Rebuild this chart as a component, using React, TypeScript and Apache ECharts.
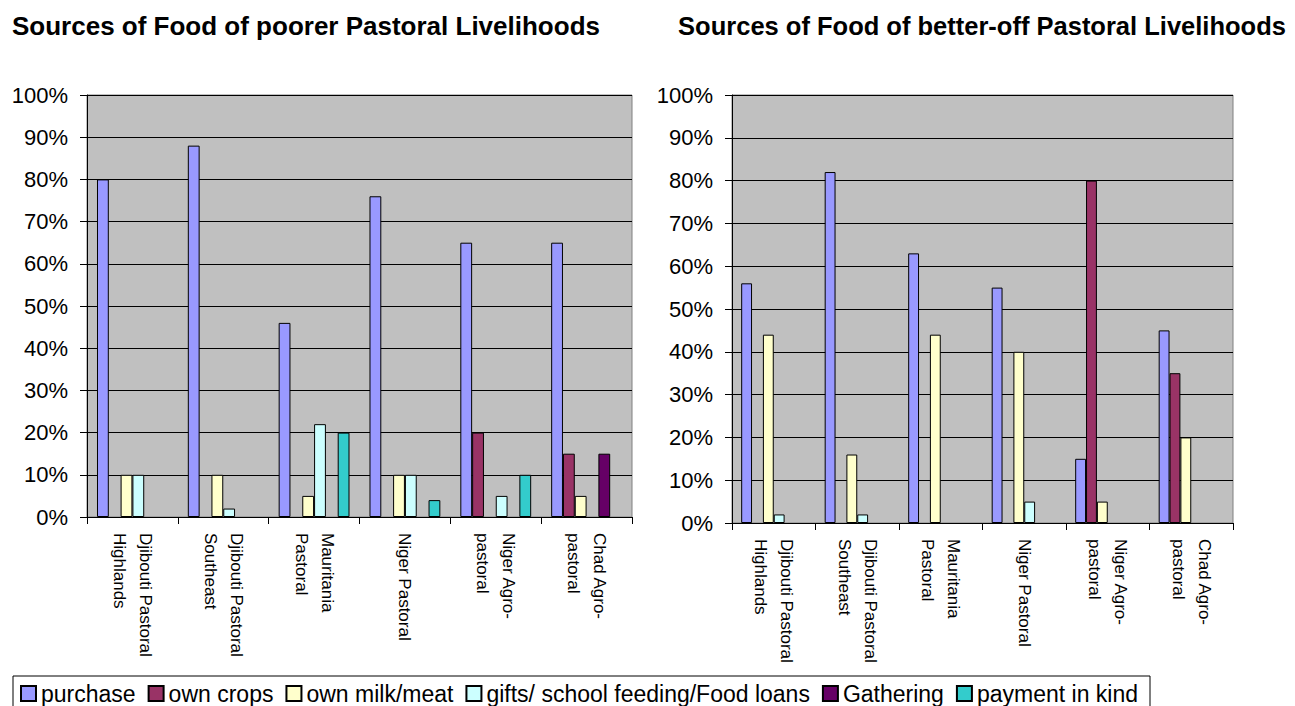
import React, { useEffect, useRef } from 'react';
import * as echarts from 'echarts';

// Livelihood zones shown along both category axes
const categories = [
  'Djibouti Pastoral\nHighlands',
  'Djibouti Pastoral\nSoutheast',
  'Mauritania\nPastoral',
  'Niger Pastoral',
  'Niger Agro-\npastoral',
  'Chad Agro-\npastoral',
];

const sourceNames = [
  'purchase',
  'own crops',
  'own milk/meat',
  'gifts/ school feeding/Food loans',
  'Gathering',
  'payment in kind',
];

const sourceColors = ['#9999FF', '#993366', '#FFFFCC', '#CCFFFF', '#660066', '#33CCCC'];

// Share of food (%) for poorer households
const poorerPurchase = [80, 88, 46, 76, 65, 65];
const poorerOwnCrops = [null, null, null, null, 20, 15];
const poorerMilkMeat = [10, 10, 5, 10, null, 5];
const poorerGifts = [10, 2, 22, 10, 5, null];
const poorerGathering = [null, null, null, null, null, 15];
const poorerPaymentInKind = [null, null, 20, 4, 10, null];

// Share of food (%) for better-off households
const betterPurchase = [56, 82, 63, 55, 15, 45];
const betterOwnCrops = [null, null, null, null, 80, 35];
const betterMilkMeat = [44, 16, 44, 40, 5, 20];
const betterGifts = [2, 2, null, 5, null, null];
const betterGathering = [null, null, null, null, null, null];
const betterPaymentInKind = [null, null, null, null, null, null];

const yMin = 0;
const yMax = 100;
const yStep = 10;

const titles = [
  'Sources of Food of poorer Pastoral Livelihoods',
  'Sources of Food of better-off Pastoral Livelihoods',
];

const FONT = '"Liberation Sans", Arial, Helvetica, sans-serif';
const NARROW = 'Liberation Sans Narrow';

// True when a locally installed font changes the measured width of a sample string
function hasFont(name: string): boolean {
  try {
    const ctx = document.createElement('canvas').getContext('2d');
    if (!ctx) return false;
    const sample = 'Djibouti Pastoral Highlands';
    ctx.font = '40px monospace';
    const base = ctx.measureText(sample).width;
    ctx.font = `40px "${name}", monospace`;
    return Math.abs(ctx.measureText(sample).width - base) > 0.5;
  } catch {
    return false;
  }
}

export default function App() {
  const ref = useRef<HTMLDivElement>(null);

  useEffect(() => {
    if (!ref.current) return;
    const chart = echarts.init(ref.current, null, { renderer: 'svg' });

    // Rotated category labels use a narrow face when one is available
    const narrow = hasFont(NARROW);
    const catLabelFont = narrow ? `"${NARROW}", ${FONT}` : FONT;
    const catLabelSize = narrow ? 21 : 17;
    const catLabelLine = narrow ? 28 : 26;

    const groups = [
      [poorerPurchase, poorerOwnCrops, poorerMilkMeat, poorerGifts, poorerGathering, poorerPaymentInKind],
      [betterPurchase, betterOwnCrops, betterMilkMeat, betterGifts, betterGathering, betterPaymentInKind],
    ];

    const gridBase = {
      show: true,
      backgroundColor: '#C0C0C0',
      borderColor: '#808080',
      borderWidth: 1,
      containLabel: false,
    };

    const xAxisBase = (gridIndex: number) => ({
      type: 'category',
      gridIndex,
      data: categories,
      axisLine: { show: true, lineStyle: { color: '#000', width: 1 } },
      axisTick: { show: true, length: 7, inside: false, lineStyle: { color: '#000' } },
      axisLabel: {
        rotate: -90,
        interval: 0,
        margin: 16,
        fontSize: catLabelSize,
        lineHeight: catLabelLine,
        color: '#000',
        fontFamily: catLabelFont,
      },
      splitLine: { show: false },
    });

    const yAxisBase = (gridIndex: number) => ({
      type: 'value',
      gridIndex,
      min: yMin,
      max: yMax,
      interval: yStep,
      axisLine: { show: true, lineStyle: { color: '#000', width: 1 } },
      axisTick: { show: true, length: 7, inside: false, lineStyle: { color: '#000' } },
      axisLabel: {
        formatter: '{value}%',
        margin: 19,
        fontSize: 22,
        color: '#000',
        fontFamily: FONT,
      },
      splitLine: { show: true, lineStyle: { color: '#000', width: 1 } },
    });

    const series: any[] = [];
    groups.forEach((values, g) => {
      values.forEach((data, i) => {
        series.push({
          type: 'bar',
          name: sourceNames[i],
          xAxisIndex: g,
          yAxisIndex: g,
          data,
          barGap: '0%',
          barCategoryGap: '22%',
          itemStyle: { color: sourceColors[i], borderColor: '#000', borderWidth: 1 },
          emphasis: { disabled: true },
        });
      });
    });

    const titleStyle = { fontWeight: 'bold', color: '#000', fontFamily: FONT };

    chart.setOption({
      animation: false,
      backgroundColor: '#FFFFFF',
      textStyle: { fontFamily: FONT },
      title: [
        {
          text: titles[0],
          left: 306,
          top: 13,
          padding: 0,
          textAlign: 'center',
          textStyle: { ...titleStyle, fontSize: 26 },
        },
        {
          text: titles[1],
          left: 982,
          top: 13,
          padding: 0,
          textAlign: 'center',
          textStyle: { ...titleStyle, fontSize: 25.5 },
        },
      ],
      legend: {
        left: 13,
        top: 676,
        orient: 'horizontal',
        itemWidth: 15,
        itemHeight: 15,
        itemGap: 12,
        padding: [6, 12, 4, 7],
        borderColor: '#000',
        borderWidth: 1,
        selectedMode: false,
        textStyle: { fontSize: 23, color: '#000', fontFamily: FONT },
        data: sourceNames.map((name) => ({ name, icon: 'rect' })),
      },
      grid: [
        { ...gridBase, left: 87, top: 95, width: 545, height: 422 },
        { ...gridBase, left: 732, top: 95, width: 501, height: 428 },
      ],
      xAxis: [xAxisBase(0), xAxisBase(1)],
      yAxis: [yAxisBase(0), yAxisBase(1)],
      series,
    });

    return () => chart.dispose();
  }, []);

  return (
    <div
      ref={ref}
      style={{ position: 'fixed', left: 0, top: 0, width: 1295, height: 706 }}
    />
  );
}
